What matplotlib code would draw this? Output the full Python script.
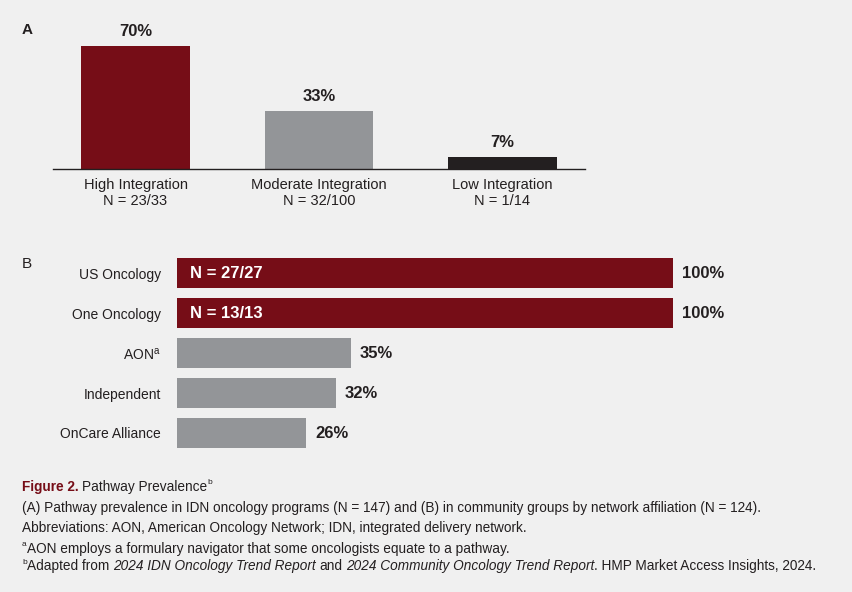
import matplotlib
matplotlib.use("Agg")
import matplotlib.pyplot as plt

# panel A data
a_labels = ["High Integration\nN = 23/33", "Moderate Integration\nN = 32/100", "Low Integration\nN = 1/14"]
a_values = [70, 33, 7]

# panel B data
b_labels = ["US Oncology", "One Oncology", "AON$^{\\mathrm{a}}$", "Independent", "OnCare Alliance"]
b_values = [100, 100, 35, 32, 26]
b_inner = ["N = 27/27", "N = 13/13", "", "", ""]

RED = "#760d17"
GRAY = "#939598"
BLACK = "#231f20"
BG = "#f0f0f0"

plt.rcParams["font.family"] = ["Liberation Sans", "DejaVu Sans"]
plt.rcParams["mathtext.fontset"] = "custom"
plt.rcParams["mathtext.rm"] = "Liberation Sans"
plt.rcParams["mathtext.it"] = "Liberation Sans:italic"
plt.rcParams["mathtext.bf"] = "Liberation Sans:bold"

W, H = 853, 592
fig = plt.figure(figsize=(W / 100, H / 100), dpi=100, facecolor=BG)


def px_box(left, top, right, bottom):
    return [left / W, 1 - bottom / H, (right - left) / W, (bottom - top) / H]


# ---- Panel A ----
ax_a = fig.add_axes(px_box(53, 19.6, 585, 169))
ax_a.set_facecolor(BG)
a_colors = [RED, GRAY, BLACK]
xs = range(len(a_values))
ax_a.bar(xs, a_values, width=0.59, color=a_colors)
ax_a.set_xlim(-0.45, 2.45)
ax_a.set_ylim(0, 85)
for s in ["top", "right", "left"]:
    ax_a.spines[s].set_visible(False)
ax_a.spines["bottom"].set_color(BLACK)
ax_a.spines["bottom"].set_linewidth(1.0)
ax_a.set_yticks([])
ax_a.set_xticks(list(xs))
ax_a.set_xticklabels(a_labels, fontsize=10.5, color=BLACK, linespacing=1.15)
ax_a.tick_params(axis="x", length=0, pad=6.5)
for x, v in zip(xs, a_values):
    ax_a.annotate(f"{v}%", (x, v), xytext=(0, 10.5), textcoords="offset points",
                  ha="center", va="center", fontsize=12, fontweight="bold", color=BLACK)

# ---- Panel B ----
ax_b = fig.add_axes(px_box(177, 253, 673, 453))
ax_b.set_facecolor(BG)
b_colors = [RED, RED, GRAY, GRAY, GRAY]
ys = range(len(b_values))
ax_b.barh(ys, b_values, height=0.75, color=b_colors)
ax_b.set_xlim(0, 100)
ax_b.set_ylim(4.5, -0.5)
for s in ax_b.spines.values():
    s.set_visible(False)
ax_b.set_xticks([])
ax_b.set_yticks(list(ys))
ax_b.set_yticklabels(b_labels, fontsize=10, color=BLACK)
ax_b.tick_params(axis="y", length=0, pad=11.5)
for y, v, inner in zip(ys, b_values, b_inner):
    ax_b.annotate(f"{v}%", (v, y), xytext=(6.5, 0), textcoords="offset points",
                  ha="left", va="center", fontsize=12, fontweight="bold",
                  color=BLACK, annotation_clip=False)
    if inner:
        ax_b.annotate(inner, (0, y), xytext=(9.5, 0), textcoords="offset points",
                      ha="left", va="center", fontsize=12, fontweight="bold", color="white")

fig.text(22 / W, 1 - 30 / H, "A", fontsize=11, fontweight="bold", color=BLACK, va="center")
fig.text(22 / W, 1 - 264 / H, "B", fontsize=11, color=BLACK, va="center")

# ---- caption ----
renderer = fig.canvas.get_renderer()


def text_width(t):
    return t.get_window_extent(renderer).width / W


def runs(x, y_px, parts, size=9.85):
    """draw a row of text pieces one after another"""
    probe = fig.text(0, 0, "x x", fontsize=size)
    probe2 = fig.text(0, 0, "xx", fontsize=size)
    space = text_width(probe) - text_width(probe2)
    probe.remove()
    probe2.remove()
    y = 1 - y_px / H
    for s, kw in parts:
        lead = len(s) - len(s.lstrip(" "))
        trail = len(s) - len(s.rstrip(" "))
        x += lead * space
        core = s.strip(" ")
        fs = kw.pop("fontsize", size)
        dy = kw.pop("dy", 0)
        t = fig.text(x, y + dy / H, core, fontsize=fs, va="center", color=kw.pop("color", BLACK), **kw)
        x += text_width(t) + trail * space


runs(22 / W, 487, [("Figure 2.", dict(fontweight="bold", color=RED)),
                   (" Pathway Prevalence", {}),
                   ("b", dict(fontsize=6, dy=4))])
runs(22 / W, 508, [("(A) Pathway prevalence in IDN oncology programs (N = 147) and (B) in community groups by network affiliation (N = 124).", {})])
runs(22 / W, 528, [("Abbreviations: AON, American Oncology Network; IDN, integrated delivery network.", {})])
runs(22 / W, 549, [("a", dict(fontsize=6, dy=4)),
                   ("AON employs a formulary navigator that some oncologists equate to a pathway.", {})])
runs(22 / W, 566, [("b", dict(fontsize=6, dy=4)),
                   ("Adapted from ", {}),
                   ("2024 IDN Oncology Trend Report", dict(style="italic")),
                   (" and ", {}),
                   ("2024 Community Oncology Trend Report", dict(style="italic")),
                   (". HMP Market Access Insights, 2024.", {})])

fig.savefig("out.png", dpi=100, facecolor=BG)
